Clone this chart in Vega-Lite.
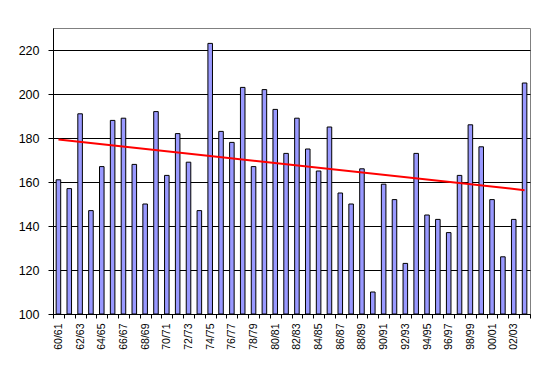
{
  "$schema": "https://vega.github.io/schema/vega-lite/v6.json",
  "width": 477,
  "height": 286,
  "autosize": {"type": "none"},
  "padding": {"left": 53, "top": 28, "right": 15, "bottom": 53},
  "background": "white",
  "config": {
    "view": {"stroke": "#808080", "strokeWidth": 1},
    "axis": {"labelFont": "Liberation Sans", "labelColor": "black", "domainColor": "black", "tickColor": "black", "domainWidth": 1, "tickWidth": 1, "ticks": true}
  },
  "datasets": {
    "bars": [
      {"season": "60/61", "value": 161}, {"season": "61/62", "value": 157}, {"season": "62/63", "value": 191},
      {"season": "63/64", "value": 147}, {"season": "64/65", "value": 167}, {"season": "65/66", "value": 188},
      {"season": "66/67", "value": 189}, {"season": "67/68", "value": 168}, {"season": "68/69", "value": 150},
      {"season": "69/70", "value": 192}, {"season": "70/71", "value": 163}, {"season": "71/72", "value": 182},
      {"season": "72/73", "value": 169}, {"season": "73/74", "value": 147}, {"season": "74/75", "value": 223},
      {"season": "75/76", "value": 183}, {"season": "76/77", "value": 178}, {"season": "77/78", "value": 203},
      {"season": "78/79", "value": 167}, {"season": "79/80", "value": 202}, {"season": "80/81", "value": 193},
      {"season": "81/82", "value": 173}, {"season": "82/83", "value": 189}, {"season": "83/84", "value": 175},
      {"season": "84/85", "value": 165}, {"season": "85/86", "value": 185}, {"season": "86/87", "value": 155},
      {"season": "87/88", "value": 150}, {"season": "88/89", "value": 166}, {"season": "89/90", "value": 110},
      {"season": "90/91", "value": 159}, {"season": "91/92", "value": 152}, {"season": "92/93", "value": 123},
      {"season": "93/94", "value": 173}, {"season": "94/95", "value": 145}, {"season": "95/96", "value": 143},
      {"season": "96/97", "value": 137}, {"season": "97/98", "value": 163}, {"season": "98/99", "value": 186},
      {"season": "99/00", "value": 176}, {"season": "00/01", "value": 152}, {"season": "01/02", "value": 126},
      {"season": "02/03", "value": 143}, {"season": "03/04", "value": 205}
    ],
    "trend": [
      {"season": "60/61", "trend": 179.3},
      {"season": "03/04", "trend": 156.3}
    ]
  },
  "encoding": {
    "x": {
      "field": "season",
      "type": "ordinal",
      "sort": null,
      "scale": {
        "domain": ["60/61","61/62","62/63","63/64","64/65","65/66","66/67","67/68","68/69","69/70","70/71","71/72","72/73","73/74","74/75","75/76","76/77","77/78","78/79","79/80","80/81","81/82","82/83","83/84","84/85","85/86","86/87","87/88","88/89","89/90","90/91","91/92","92/93","93/94","94/95","95/96","96/97","97/98","98/99","99/00","00/01","01/02","02/03","03/04"],
        "paddingInner": 0,
        "paddingOuter": 0
      },
      "axis": {
        "title": null,
        "labelAngle": 270,
        "labelAlign": "right",
        "labelBaseline": "middle",
        "labelFontSize": 10.5,
        "labelPadding": 5,
        "labelOverlap": false,
        "tickSize": 4,
        "tickBand": "extent",
        "labelExpr": "toNumber(substring(datum.value, 0, 2)) % 2 == 0 ? datum.value : ''"
      }
    }
  },
  "layer": [
    {
      "data": {"name": "bars"},
      "mark": {"type": "bar", "width": {"band": 0.42}, "fill": "#9999FF", "stroke": "black", "strokeWidth": 1, "clip": true},
      "encoding": {
        "y": {
          "field": "value",
          "type": "quantitative",
          "scale": {"domain": [100, 230], "nice": false, "zero": false},
          "axis": {
            "title": null,
            "values": [100, 120, 140, 160, 180, 200, 220],
            "grid": true,
            "gridColor": "black",
            "gridOpacity": 1,
            "gridWidth": 1,
            "tickSize": 5,
            "labelPadding": 9,
            "labelFontSize": 12.5
          }
        },
        "y2": {"datum": 100}
      }
    },
    {
      "data": {"name": "trend"},
      "mark": {"type": "line", "color": "#FF0000", "strokeWidth": 2},
      "encoding": {
        "y": {"field": "trend", "type": "quantitative"}
      }
    }
  ]
}
